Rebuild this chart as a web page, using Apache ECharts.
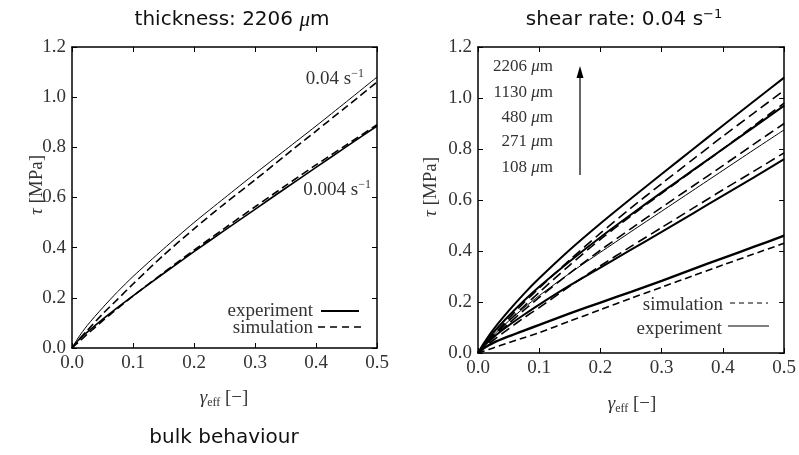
<!DOCTYPE html>
<html>
<head>
<meta charset="utf-8">
<script src="https://cdn.jsdelivr.net/npm/echarts@6/dist/echarts.min.js"></script>
<style>html,body{margin:0;padding:0;background:#fff}#c{width:799px;height:455px}</style>
</head>
<body>
<div id="c"></div>
<script>
// ---- data ----
const strain = [0, 0.01, 0.025, 0.05, 0.075, 0.1, 0.15, 0.2, 0.25, 0.3, 0.35, 0.4, 0.45, 0.5];
const xTicks = [0, 0.1, 0.2, 0.3, 0.4, 0.5];
const yTicks = [0, 0.2, 0.4, 0.6, 0.8, 1.0, 1.2];

// left: bulk behaviour, thickness 2206 um, two shear rates
const bulkExp004  = [0, 0.04, 0.09, 0.16, 0.225, 0.285, 0.395, 0.50, 0.598, 0.695, 0.79, 0.885, 0.982, 1.08];
const bulkSim004  = [0, 0.03, 0.07, 0.135, 0.195, 0.255, 0.37, 0.475, 0.575, 0.67, 0.768, 0.865, 0.962, 1.06];
const bulkExp0004 = [0, 0.03, 0.063, 0.114, 0.162, 0.208, 0.297, 0.384, 0.469, 0.553, 0.637, 0.72, 0.803, 0.885];
const bulkSim0004 = [0, 0.022, 0.055, 0.108, 0.158, 0.207, 0.30, 0.39, 0.477, 0.563, 0.647, 0.73, 0.81, 0.89];

// right: shear rate 0.04 1/s, different thicknesses
const thicknesses = ['2206', '1130', '480', '271', '108'];
const exp2206 = [0, 0.04, 0.092, 0.165, 0.232, 0.293, 0.405, 0.508, 0.606, 0.702, 0.797, 0.892, 0.986, 1.08];
const exp1130 = [0, 0.035, 0.08, 0.145, 0.205, 0.26, 0.36, 0.454, 0.543, 0.63, 0.715, 0.80, 0.885, 0.97];
const exp480  = [0, 0.03, 0.07, 0.125, 0.177, 0.225, 0.313, 0.395, 0.476, 0.556, 0.636, 0.716, 0.796, 0.875];
const exp271  = [0, 0.028, 0.062, 0.108, 0.15, 0.19, 0.265, 0.335, 0.405, 0.475, 0.546, 0.617, 0.688, 0.76];
const exp108  = [0, 0.02, 0.04, 0.065, 0.088, 0.11, 0.155, 0.198, 0.24, 0.283, 0.328, 0.372, 0.416, 0.46];
const sim2206 = [0, 0.03, 0.07, 0.135, 0.197, 0.255, 0.365, 0.47, 0.569, 0.664, 0.757, 0.85, 0.94, 1.03];
const sim1130 = [0, 0.028, 0.065, 0.125, 0.183, 0.238, 0.345, 0.446, 0.538, 0.626, 0.713, 0.80, 0.89, 0.98];
const sim480  = [0, 0.025, 0.06, 0.115, 0.168, 0.218, 0.313, 0.403, 0.488, 0.571, 0.653, 0.735, 0.818, 0.90];
const sim271  = [0, 0.022, 0.05, 0.095, 0.138, 0.178, 0.262, 0.342, 0.418, 0.492, 0.566, 0.64, 0.712, 0.785];
const sim108  = [0, 0.008, 0.02, 0.04, 0.06, 0.08, 0.125, 0.17, 0.215, 0.258, 0.302, 0.345, 0.388, 0.43];

// ---- chart ----
const SERIF = '"Liberation Serif", "DejaVu Serif", serif';
const SANS = '"DejaVu Sans", sans-serif';
const TXT = '#333';
const chart = echarts.init(document.getElementById('c'), null, {renderer: 'canvas'});

function pairs(arr) { return strain.map((x, i) => [x, arr[i]]); }
function line(name, arr, grid, width, dash) {
  return {
    name, type: 'line', xAxisIndex: grid * 2, yAxisIndex: grid * 2,
    data: pairs(arr), showSymbol: false, symbol: 'none',
    smooth: 0.25, silent: true,
    lineStyle: {color: '#000', width, type: dash || 'solid'}
  };
}
function fmt(v) { return v.toFixed(1); }

const grids = [
  {left: 72, top: 47, width: 305, height: 301},
  {left: 478, top: 47, width: 308, height: 306}
];
const xAxes = [], yAxes = [];
grids.forEach((g, gi) => {
  const base = {
    type: 'value', gridIndex: gi, min: 0, max: 0.5, interval: 0.1,
    axisLine: {show: true, onZero: false, lineStyle: {color: '#000', width: 1.5}},
    axisTick: {show: true, inside: true, length: 5, lineStyle: {color: '#000', width: 1}},
    splitLine: {show: false}
  };
  xAxes.push(Object.assign({}, base, {position: 'bottom',
    axisLabel: {show: true, margin: 6, color: TXT, fontFamily: SERIF, fontSize: 19, formatter: fmt}}));
  xAxes.push(Object.assign({}, base, {position: 'top', axisLabel: {show: false}}));
  const ybase = {
    type: 'value', gridIndex: gi, min: 0, max: 1.2, interval: 0.2,
    axisLine: {show: true, onZero: false, lineStyle: {color: '#000', width: 1.5}},
    axisTick: {show: true, inside: true, length: 5, lineStyle: {color: '#000', width: 1}},
    splitLine: {show: false}
  };
  yAxes.push(Object.assign({}, ybase, {position: 'left',
    axisLabel: {show: true, margin: 6, color: TXT, fontFamily: SERIF, fontSize: 19, formatter: fmt}}));
  yAxes.push(Object.assign({}, ybase, {position: 'right', axisLabel: {show: false}}));
});

const series = [
  line('exp 0.04', bulkExp004, 0, 1),
  line('sim 0.04', bulkSim004, 0, 1.6, [8, 4]),
  line('exp 0.004', bulkExp0004, 0, 1.6),
  line('sim 0.004', bulkSim0004, 0, 1.6, [8, 4]),
  line('exp 2206', exp2206, 1, 2),
  line('exp 1130', exp1130, 1, 2),
  line('exp 480', exp480, 1, 1),
  line('exp 271', exp271, 1, 2),
  line('exp 108', exp108, 1, 2.4),
  line('sim 2206', sim2206, 1, 1.6, [10, 5]),
  line('sim 1130', sim1130, 1, 1.6, [10, 5]),
  line('sim 480', sim480, 1, 1.6, [10, 5]),
  line('sim 271', sim271, 1, 1.6, [10, 5]),
  line('sim 108', sim108, 1, 1.6, [7, 4])
];

const serifRich = {
  a: {fontFamily: SERIF, fontSize: 19, color: TXT, lineHeight: 22},
  i: {fontFamily: SERIF, fontSize: 19, fontStyle: 'italic', color: TXT, lineHeight: 22},
  sup: {fontFamily: SERIF, fontSize: 12, color: TXT, verticalAlign: 'top', lineHeight: 12},
  sub: {fontFamily: SERIF, fontSize: 12, color: TXT, verticalAlign: 'bottom', lineHeight: 12},
  b: {fontFamily: SERIF, fontSize: 17, color: TXT, lineHeight: 20},
  bi: {fontFamily: SERIF, fontSize: 17, fontStyle: 'italic', color: TXT, lineHeight: 20}
};
function txt(x, y, text, align, extra) {
  return Object.assign({type: 'text', x, y, silent: true,
    style: {text, rich: serifRich, align: align || 'center', verticalAlign: 'middle',
      fontFamily: SERIF, fontSize: 19, fill: TXT}}, extra || {});
}
function seg(x1, y1, x2, y2, w, dash) {
  return {type: 'line', silent: true, shape: {x1, y1, x2, y2},
    style: {stroke: '#000', lineWidth: w, lineDash: dash || null}};
}
const sansRich = {
  t: {fontFamily: SANS, fontSize: 20, color: '#111', lineHeight: 24},
  m: {fontFamily: SERIF, fontSize: 21, fontStyle: 'italic', color: '#111', lineHeight: 24},
  sup: {fontFamily: SANS, fontSize: 13, color: '#111', verticalAlign: 'top', lineHeight: 13}
};
function title(x, y, text) {
  return {type: 'text', x, y, silent: true,
    style: {text, rich: sansRich, align: 'center', verticalAlign: 'middle', fontFamily: SANS, fontSize: 20, fill: '#111'}};
}

const graphics = [
  title(232, 20, '{t|thickness: 2206 }{m|μ}{t|m}'),
  title(624, 20, '{t|shear rate: 0.04 s}{sup|−1}'),
  title(224, 438, '{t|bulk behaviour}'),
  // axis names
  txt(224, 398, '{i|γ}{sub|eff}{a| [−]}'),
  txt(632, 404, '{i|γ}{sub|eff}{a| [−]}'),
  txt(37, 185, '{i|τ}{a| [MPa]}', 'center', {rotation: Math.PI / 2}),
  txt(431, 187, '{i|τ}{a| [MPa]}', 'center', {rotation: Math.PI / 2}),
  // left annotations
  txt(364, 79, '{a|0.04 s}{sup|−1}', 'right'),
  txt(371, 190, '{a|0.004 s}{sup|−1}', 'right'),
  // left legend
  txt(313, 311, '{a|experiment}', 'right'),
  seg(321, 311, 359, 311, 2),
  txt(313, 328, '{a|simulation}', 'right'),
  seg(318, 327, 362, 327, 1.6, [7, 5]),
  // right legend
  txt(723, 305, '{a|simulation}', 'right'),
  seg(730, 303, 768, 303, 1, [5, 4]),
  txt(722, 329, '{a|experiment}', 'right'),
  seg(728, 326, 769, 326, 1),
  // arrow
  seg(580, 175, 580, 76, 1.2),
  {type: 'polygon', silent: true, shape: {points: [[580, 66], [576.5, 78], [583.5, 78]]}, style: {fill: '#000'}}
];
const labelY = [67, 92.5, 117.5, 142, 167.5];
thicknesses.forEach((t, i) => {
  graphics.push(txt(553, labelY[i], '{b|' + t + ' }{bi|μ}{b|m}', 'right'));
});

chart.setOption({
  animation: false,
  backgroundColor: '#fff',
  grid: grids,
  xAxis: xAxes,
  yAxis: yAxes,
  series,
  graphic: graphics
});
</script>
</body>
</html>
